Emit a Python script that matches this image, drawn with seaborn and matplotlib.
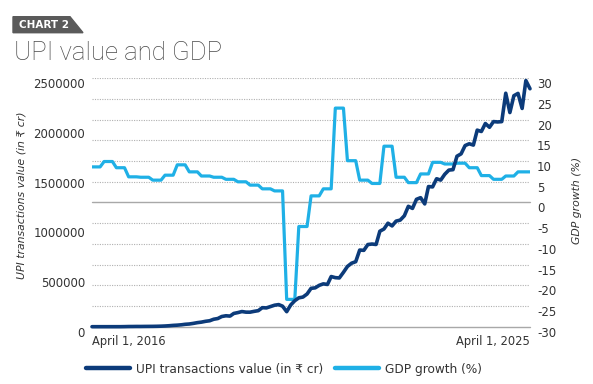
import numpy as np
import pandas as pd
import matplotlib
matplotlib.use("Agg")
import matplotlib.pyplot as plt
import matplotlib.transforms as mtransforms
from matplotlib.patches import Polygon
from matplotlib.lines import Line2D
import seaborn as sns

# Monthly data, April 2016 - April 2025
months = pd.date_range("2016-04-01", "2025-04-01", freq="MS")

# UPI transactions value (in Rs crore)
upi_value = [
    0, 0, 0, 0, 3, 32, 48, 90, 707,
    1696, 1937, 2425, 2271, 2797, 3098, 3411, 4157, 5326, 7057, 9669, 13174,
    15571, 19167, 24172, 27149, 33289, 40834, 45982, 54212, 59835, 74978, 82232, 102595,
    109932, 106737, 133461, 142034, 152449, 146387, 146183, 154508, 161456, 191359, 189229, 202521,
    216243, 222517, 206462, 151141, 218392, 261835, 290538, 298308, 329027, 386107, 390999, 416176,
    431182, 425063, 504886, 493663, 490638, 547373, 606281, 639117, 654351, 771444, 768436, 826848,
    831993, 827552, 960582, 983302, 1041520, 1014384, 1062747, 1072792, 1116438, 1211582, 1190594, 1282055,
    1298727, 1235846, 1410443, 1407007, 1489145, 1475465, 1533645, 1576148, 1580462, 1715768, 1739741, 1822949,
    1841084, 1827869, 1978353, 1964465, 2044937, 2007081, 2064292, 2060735, 2063958, 2349821, 2155187, 2324699,
    2348037, 2196483, 2477222, 2394926,
]

# GDP growth (%), one value per quarter (Apr-Jun 2016 onwards), held for each month
gdp_quarterly = [
    8.6, 9.9, 8.4, 6.2, 6.1, 5.4, 6.6, 9.1, 7.4, 6.4, 6.1, 5.6,
    5.0, 4.2, 3.3, 2.8, -23.4, -5.8, 1.6, 3.3, 22.8, 10.1, 5.4, 4.6,
    13.6, 6.1, 4.8, 6.9, 9.7, 9.3, 9.5, 8.4, 6.5, 5.6, 6.4, 7.4, 7.4,
]
gdp_growth = np.repeat(gdp_quarterly, 3)[:len(months)]

left_ticks = [0, 500000, 1000000, 1500000, 2000000, 2500000]
right_ticks = list(range(-30, 31, 5))
x_labels = ["April 1, 2016", "April 1, 2025"]

navy = "#0c3b7a"
cyan = "#1fb0e6"
txt = "#333333"

sns.set_style("white")
plt.rcParams["font.family"] = ["DejaVu Sans Condensed", "DejaVu Sans"]

fig = plt.figure(figsize=(5.93, 3.84), dpi=100)
W, H = 593, 384

def fx(px):
    return px / W

def fy(py):
    return 1 - py / H

ax = fig.add_axes([fx(92), fy(326.7), fx(530) - fx(92), fy(78.3) - fy(326.7)])
ax2 = ax.twinx()

# GDP on the (lower) right axis, UPI on top
sns.lineplot(x=months, y=gdp_growth, ax=ax2, color=cyan, linewidth=2.3)
sns.lineplot(x=months, y=upi_value, ax=ax, color=navy, linewidth=2.6)
ax.lines[0].set_clip_on(False)
ax.set_zorder(ax2.get_zorder() + 1)
ax.patch.set_visible(False)
ax2.patch.set_visible(False)

ax.set_xlim(months[0], months[-1])
ax.set_ylim(0, 2500000)
ax2.set_ylim(-30, 30)

# grid lines
for v in right_ticks:
    if v in (0, -30):
        ax2.axhline(v, color="#a8a8a8", linewidth=1.0, zorder=0, clip_on=False)
    else:
        ax2.axhline(v, color="#b0b0b0", linewidth=0.8, linestyle=(0, (1, 1.2)), zorder=0)

for a in (ax, ax2):
    for s in a.spines.values():
        s.set_visible(False)
    a.set_xlabel("")
    a.set_ylabel("")

ax.set_yticks(left_ticks)
ax.set_yticklabels([str(v) for v in left_ticks])
ax2.set_yticks(right_ticks)
ax2.set_yticklabels([str(v) for v in right_ticks])
ax.tick_params(axis="y", length=0, pad=5, labelsize=8.5, labelcolor=txt)
ax2.tick_params(axis="y", length=0, pad=5, labelsize=8.5, labelcolor=txt)

ax.set_xticks([months[0], months[-1]])
ax.set_xticklabels(x_labels)
ax.tick_params(axis="x", length=0, pad=6, labelsize=8.3, labelcolor=txt)
ax.get_xticklabels()[0].set_ha("left")
ax.get_xticklabels()[1].set_ha("right")

# tick labels sit a little below their grid lines
shift = mtransforms.ScaledTranslation(0, -0.05, fig.dpi_scale_trans)
for lab in ax.get_yticklabels() + ax2.get_yticklabels():
    lab.set_transform(lab.get_transform() + shift)

fig.text(fx(22), fy(195), "UPI transactions value (in ₹ cr)", rotation=90,
         style="italic", fontsize=7.8, color=txt, ha="center", va="center")
fig.text(fx(577), fy(200), "GDP growth (%)", rotation=90,
         style="italic", fontsize=7.8, color=txt, ha="center", va="center")

# header
badge = Polygon([(fx(13), fy(16.7)), (fx(70), fy(16.7)), (fx(83), fy(32.7)), (fx(13), fy(32.7))],
                closed=True, transform=fig.transFigure, color="#5a5a5a")
fig.patches.append(badge)
fig.text(fx(19), fy(25), "CHART 2", color="white", fontsize=7.5, fontweight="bold",
         ha="left", va="center")
fig.text(fx(14), fy(60), "UPI value and GDP", fontsize=18.5, color="#4a4a4a",
         family=["Roboto", "DejaVu Sans"], fontweight="light", ha="left", va="baseline")

# legend
for a in (ax, ax2):
    if a.get_legend() is not None:
        a.get_legend().remove()
handles = [Line2D([], [], color=navy, linewidth=3.2), Line2D([], [], color=cyan, linewidth=3.2)]
fig.legend(handles, ["UPI transactions value (in ₹ cr)", "GDP growth (%)"],
           loc="center", bbox_to_anchor=(fx(284), fy(369)), ncol=2, frameon=False,
           fontsize=8.7, handlelength=3.6, handletextpad=0.5, columnspacing=1.0,
           labelcolor=txt)

fig.savefig("out.png", dpi=100)
